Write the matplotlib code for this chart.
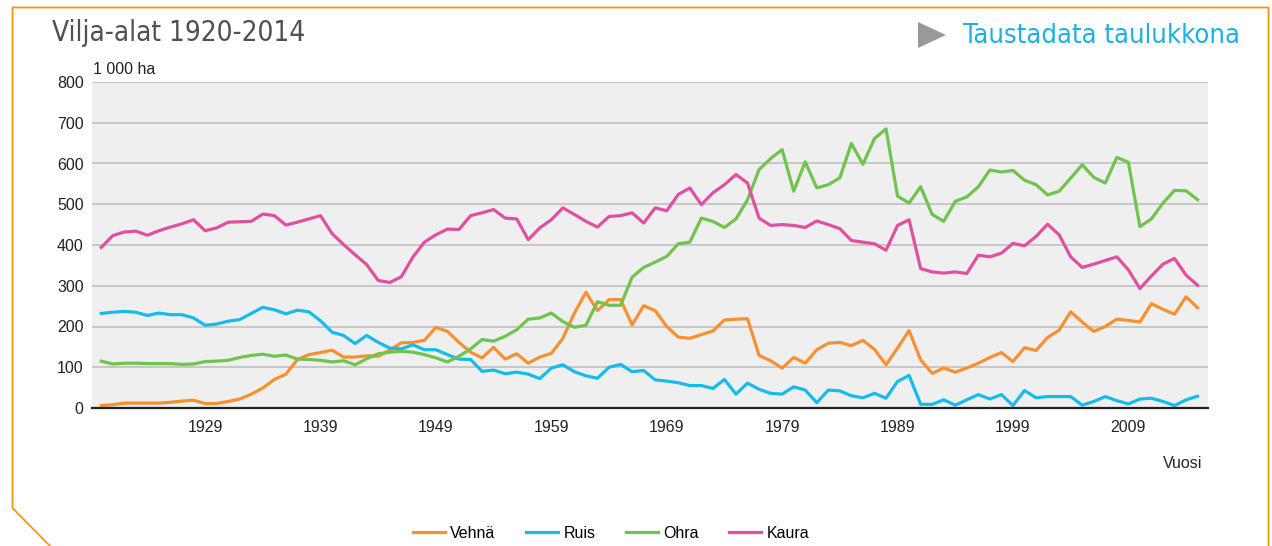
import matplotlib
matplotlib.use("Agg")
from matplotlib import pyplot
from matplotlib.lines import Line2D
from matplotlib.patches import Polygon

W, H = 1272, 546

years = list(range(1920, 2016))

vehna = [6, 8, 12, 12, 12, 12, 14, 17, 19, 11, 11, 16, 22, 34, 49, 70, 83, 119, 131, 136,
         142, 125, 125, 128, 127, 142, 160, 161, 166, 198, 188, 161, 137, 123, 149, 120, 133, 110, 125,
         134, 171, 233, 284, 239, 266, 266, 204, 251, 239, 200, 174, 171, 180, 189, 216, 218, 219, 129, 116,
         98, 124, 110, 143, 159, 161, 153, 166, 144, 106, 147, 190, 118, 85, 98, 88, 98, 110, 124,
         136, 114, 148, 141, 173, 191, 236, 211, 188, 200, 218, 215, 211, 256, 242, 230, 273, 246]

ruis = [232, 235, 237, 235, 227, 233, 229, 229, 221, 203, 206, 213, 217, 232, 247, 241, 231, 240, 236, 214,
        186, 178, 158, 178, 161, 147, 145, 155, 143, 143, 131, 120, 119, 90, 93, 84, 88, 83, 72,
        98, 106, 89, 79, 73, 100, 107, 89, 92, 69, 66, 62, 55, 55, 48, 70, 34, 61, 46, 36,
        34, 52, 44, 13, 44, 42, 30, 25, 36, 24, 65, 80, 9, 9, 20, 7, 20, 33, 22,
        33, 6, 43, 25, 28, 28, 28, 7, 16, 28, 18, 10, 22, 24, 16, 6, 20, 29]

ohra = [115, 108, 110, 110, 109, 109, 109, 107, 108, 114, 115, 117, 124, 129, 132, 127, 130, 120, 119, 117,
        113, 116, 106, 121, 133, 137, 139, 137, 131, 123, 113, 127, 145, 168, 164, 176, 192, 218, 221,
        233, 212, 198, 203, 261, 252, 252, 321, 345, 358, 372, 403, 407, 466, 458, 443, 464, 511, 585, 612,
        634, 532, 604, 540, 548, 565, 649, 598, 661, 685, 520, 503, 543, 475, 458, 507, 518, 543, 584,
        579, 583, 559, 548, 523, 532, 564, 597, 566, 552, 615, 603, 445, 464, 503, 534, 533, 511]

kaura = [394, 423, 432, 434, 424, 435, 444, 452, 462, 435, 442, 456, 457, 458, 476, 472, 449, 456, 464, 472,
         428, 401, 376, 352, 313, 308, 322, 370, 407, 425, 439, 438, 472, 479, 487, 466, 464, 413, 442,
         462, 491, 475, 458, 444, 470, 472, 479, 454, 491, 484, 524, 540, 499, 528, 548, 573, 552, 466, 448,
         450, 448, 443, 459, 450, 440, 411, 407, 403, 387, 448, 462, 342, 334, 331, 334, 330, 375, 371,
         380, 404, 398, 421, 451, 425, 371, 345, 353, 362, 371, 339, 293, 324, 353, 367, 326, 301]

names = ['Vehnä', 'Ruis', 'Ohra', 'Kaura']
COLS = ['#f7902f', '#16bbeb', '#6ec44d', '#e0509f']
xticks = list(range(1929, 2010, 10))
yticks = list(range(0, 801, 100))

FONT = 'Liberation Sans'


def fx(px):
    return px / W


def fy(py):
    return 1 - py / H


fig = pyplot.figure(figsize=(W / 100, H / 100), dpi=100)
ax = fig.add_axes([fx(92), fy(408), fx(1208) - fx(92), fy(82) - fy(408)])
ax.set_facecolor('#efefef')

for vals, name, col in zip([vehna, ruis, ohra, kaura], names, COLS):
    ax.plot(years, vals, color=col, lw=2.3, label=name, solid_joinstyle='round')

ax.set_xlim(1919.2, 2015.9)
ax.set_ylim(0, 800)
ax.set_yticks(yticks)
ax.set_xticks(xticks)
ax.set_yticklabels([str(v) for v in yticks], fontfamily=FONT, fontsize=11.5, color='#222222')
ax.set_xticklabels([str(v) for v in xticks], fontfamily=FONT, fontsize=11.5, color='#222222')
ax.tick_params(axis='y', length=0, pad=6)
ax.tick_params(axis='x', length=0, pad=9)
ax.grid(axis='y', color='#c4c4c4', lw=1.3)
ax.set_axisbelow(True)
for s in ['left', 'right', 'top']:
    ax.spines[s].set_visible(False)
ax.spines['bottom'].set_color('#222222')
ax.spines['bottom'].set_linewidth(1.6)

fig.text(fx(93), fy(69), '1 000 ha', fontfamily=FONT, fontsize=11.5, color='#222222', va='center', ha='left')
fig.text(fx(1183), fy(463), 'Vuosi', fontfamily=FONT, fontsize=11.5, color='#222222', va='center', ha='center')

# header
fig.text(fx(52), fy(33), 'Vilja-alat 1920-2014', fontfamily='DejaVu Sans', fontstretch='condensed',
         fontsize=20, color='#505050', va='center', ha='left')
fig.add_artist(Polygon([[fx(918), fy(22)], [fx(918), fy(48)], [fx(946), fy(35)]],
                       closed=True, transform=fig.transFigure, color='#999999', lw=0))
fig.text(fx(963), fy(36), 'Taustadata taulukkona', fontfamily='DejaVu Sans', fontstretch='condensed',
         fontsize=19.5, color='#1cb0e3', va='center', ha='left')

# orange frame
fig.add_artist(Line2D([fx(50), fx(12.5), fx(12.5), fx(1268.5), fx(1268.5)],
                      [fy(546), fy(508), fy(7.5), fy(7.5), fy(546)],
                      transform=fig.transFigure, color='#f7941d', lw=1.3))

fig.legend(loc='center', bbox_to_anchor=(fx(611), fy(533)), ncol=4, frameon=False,
           prop={'family': FONT, 'size': 11.5}, handlelength=2.0, handletextpad=0.35,
           columnspacing=1.9, borderaxespad=0)

fig.savefig('out.png', dpi=100)
